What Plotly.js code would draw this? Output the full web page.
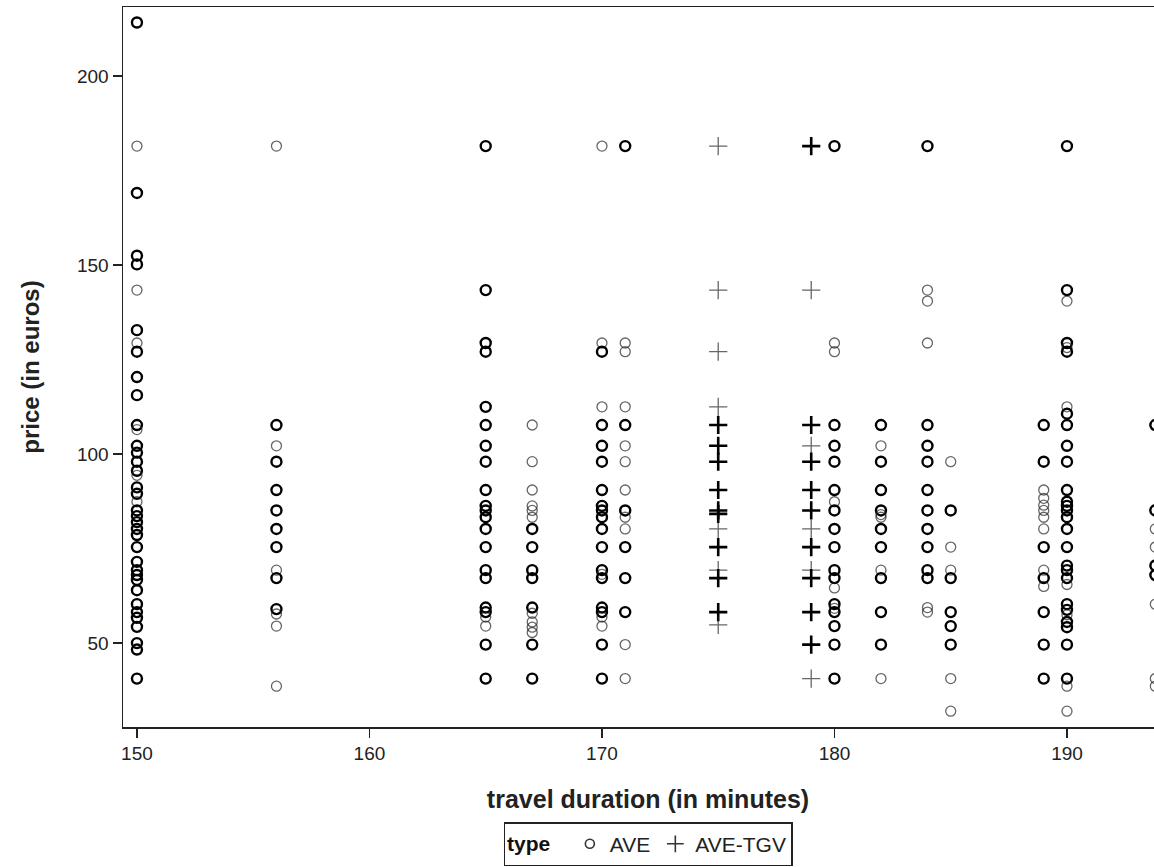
<!DOCTYPE html>
<html>
<head>
<meta charset="utf-8">
<script src="https://cdn.plot.ly/plotly-3.0.1.min.js"></script>
<style>
html, body { margin: 0; padding: 0; overflow: hidden; background: #fff; }
#chart { width: 1176px; height: 867px; }
</style>
</head>
<body>
<div id="chart"></div>
<script>
// ---- DATA (one entry per ticket; repeated values = overlapping tickets) ----
const aveDurations = [150, 156, 165, 167, 170, 171, 180, 182, 184, 185, 189, 190, 193.8];
const avePrices = [
  // 150
  [214.2,214.2, 181.5, 169.1,169.1, 152.5,152.5, 150.2,150.2, 143.4, 132.8,132.8, 129.4, 127.1,127.1,
   120.4,120.4, 115.6,115.6, 107.7,107.7,107.7, 106.5, 102.2,102.2, 100.4,100.4, 98,98, 95.6,95.6, 94.4,
   91.2,91.2, 89.5,89.5, 87.4, 85.1,85.1, 83.6,83.6, 82,82, 80.2,80.2, 78.6,78.6, 75.4,75.4, 71.5,71.5,
   69.3,69.3, 68,68, 66.7,66.7, 64,64, 60.3,60.3, 58.2,58.2, 56.7,56.7, 54.3,54.3, 50,50, 48.3,48.3, 40.6,40.6],
  // 156
  [181.5, 107.7,107.7, 102.2, 98,98, 90.5,90.5, 85.1,85.1, 80.2,80.2, 75.4,75.4, 69.3, 67.2,67.2,
   59,59, 57.7, 54.5, 38.6],
  // 165
  [181.5,181.5, 143.4,143.4, 129.4,129.4, 127.1,127.1, 112.5,112.5, 107.7,107.7, 102.2,102.2, 98,98,
   90.5,90.5, 86.3,86.3, 85.1,85.1, 83.3,83.3, 80.2,80.2, 75.4,75.4, 69.3,69.3, 67.2,67.2, 59.4,59.4,
   58.2,58.2, 56.9, 54.5, 49.6,49.6, 40.6,40.6],
  // 167
  [107.7, 98, 90.5, 86.3, 85.1, 83.3, 80.2,80.2, 75.4,75.4, 69.3,69.3, 67.2,67.2, 59.4,59.4, 57.9,
   55.6, 54.2, 52.8, 49.6,49.6, 40.6,40.6],
  // 170
  [181.5, 129.4, 127.1,127.1, 112.5, 107.7,107.7, 102.2,102.2, 98,98, 90.5,90.5, 86.3,86.3, 85.1,85.1,
   83.3,83.3, 80.2,80.2, 75.4,75.4, 69.3,69.3, 68.2, 67.2,67.2, 59.4,59.4, 58.2,58.2, 56.9, 54.5,
   49.6,49.6, 40.6,40.6],
  // 171
  [181.5,181.5, 129.4, 127.1, 112.5, 107.7,107.7, 102.2, 98, 90.5, 85.1,85.1, 83.3, 80.2, 75.4,75.4,
   67.2,67.2, 58.2,58.2, 49.6, 40.6],
  // 180
  [181.5,181.5, 129.4, 127.1, 107.7,107.7, 102.2,102.2, 98,98, 90.5,90.5, 87.4, 85.1,85.1,
   80.2,80.2, 75.4,75.4, 69.3,69.3, 67.2,67.2, 64.6, 60.3,60.3, 59.2, 58.2,58.2, 54.5,54.5, 49.6,49.6, 40.6,40.6],
  // 182
  [107.7,107.7, 102.2, 98,98, 90.5,90.5, 85.1,85.1, 84, 83.3, 80.2,80.2, 75.4,75.4, 69.3, 67.2,67.2,
   58.2,58.2, 49.6,49.6, 40.6],
  // 184
  [181.5,181.5, 143.4, 140.5, 129.4, 107.7,107.7, 102.2,102.2, 98,98, 90.5,90.5, 85.1,85.1, 80.2,80.2,
   75.4,75.4, 69.3,69.3, 67.2,67.2, 59.4, 58.2],
  // 185
  [98, 85.1,85.1, 75.4, 69.3, 67.2,67.2, 58.2,58.2, 54.5,54.5, 49.6,49.6, 40.6, 32],
  // 189
  [107.7,107.7, 98,98, 90.5, 88.3, 86.5, 85.1, 83.3, 80.2, 75.4,75.4, 69.3, 67.2,67.2, 65, 58.2,58.2,
   49.6,49.6, 40.6,40.6],
  // 190
  [181.5,181.5, 143.4,143.4, 140.5, 129.4,129.4, 128.2, 127.1,127.1, 112.5, 110.7,110.7, 107.7,107.7,
   102.2,102.2, 98,98, 90.5,90.5, 87.4,87.4, 86.3,86.3, 85.1,85.1, 83.3,83.3, 80.2,80.2, 75.4,75.4,
   70.5,70.5, 69.3,69.3, 67.2,67.2, 65.5, 60.3,60.3, 58.8,58.8, 57.5, 55.6,55.6, 54.2,54.2, 49.6,49.6,
   40.6,40.6, 38.6, 32],
  // ~194 (cut at right edge)
  [107.7,107.7, 85.1,85.1, 80.2, 75.4, 70.5,70.5, 68,68, 60.3, 40.6, 38.6]
];

const tgvDurations = [175, 179];
const tgvPrices = [
  // 175
  [181.5, 143.4, 127.1, 112.5, 107.7,107.7, 102.2,102.2, 98,98, 90.5,90.5, 85.1,85.1, 84.2,84.2, 80.2,
   75.4,75.4, 69.3, 67.2,67.2, 58.2,58.2, 54.8],
  // 179
  [181.5,181.5, 143.4, 107.7,107.7, 102.2, 98,98, 90.5,90.5, 85.1,85.1, 80.2, 75.4,75.4, 69.3, 67.2,67.2,
   58.2,58.2, 49.6,49.6, 40.6]
];

const typeNames = ['AVE', 'AVE-TGV'];
const xTicks = [150, 160, 170, 180, 190];
const yTicks = [50, 100, 150, 200];

// ---- BUILD ----
function aggregate(durations, prices) {
  const map = new Map();
  durations.forEach((d, i) => {
    prices[i].forEach(p => {
      const k = d + '|' + p;
      if (!map.has(k)) map.set(k, { x: d, y: p, n: 0 });
      map.get(k).n += 1;
    });
  });
  return Array.from(map.values());
}

const THIN_COL = 'rgba(30,30,30,0.68)';
const BOLD_COL = '#000';

function makeTrace(durations, prices, symbol, size, thin, bold) {
  const pts = aggregate(durations, prices);
  const cols = pts.map(p => p.n > 1 ? BOLD_COL : THIN_COL);
  return {
    type: 'scatter', mode: 'markers', showlegend: false, hoverinfo: 'x+y',
    x: pts.map(p => p.x), y: pts.map(p => p.y),
    marker: {
      symbol: symbol, size: size, color: cols,
      line: { width: pts.map(p => p.n > 1 ? bold : thin), color: cols }
    }
  };
}

const FONT = '"Liberation Sans", Arial, Helvetica, sans-serif';

const traces = [
  makeTrace(aveDurations, avePrices, 'circle-open', 10, 1.3, 2.4),
  makeTrace(tgvDurations, tgvPrices, 'cross-thin-open', 13, 1.3, 2.6),
  { type: 'scatter', mode: 'markers', name: typeNames[0], x: [null], y: [null],
    marker: { symbol: 'circle-open', size: 9, color: '#333', line: { width: 1.6, color: '#333' } } },
  { type: 'scatter', mode: 'markers', name: typeNames[1], x: [null], y: [null],
    marker: { symbol: 'cross-thin-open', size: 12, color: '#333', line: { width: 1.6, color: '#333' } } }
];

const axisCommon = {
  showline: true, linecolor: '#222', linewidth: 1.5, mirror: true,
  ticks: 'outside', ticklen: 9, tickwidth: 1.5, tickcolor: '#222',
  showgrid: false, zeroline: false,
  tickfont: { family: FONT, size: 19, color: '#222' }
};

const layout = {
  width: 1176, height: 867,
  margin: { l: 123, r: 3, t: 7, b: 140, pad: 0 },
  paper_bgcolor: '#fff', plot_bgcolor: '#fff',
  font: { family: FONT, color: '#222' },
  xaxis: Object.assign({}, axisCommon, {
    range: [149.4, 194.56], tickvals: xTicks,
    title: { text: '<b>travel duration (in minutes)</b>', font: { family: FONT, size: 25, color: '#222' }, standoff: 27 }
  }),
  yaxis: Object.assign({}, axisCommon, {
    range: [27.8, 218.3], tickvals: yTicks,
    title: { text: '<b>price (in euros)</b>', font: { family: FONT, size: 24, color: '#222' }, standoff: 30 }
  }),
  legend: {
    orientation: 'h', x: 0.5, xanchor: 'center',
    yref: 'container', y: 0.001, yanchor: 'bottom',
    bordercolor: '#222', borderwidth: 1.5, bgcolor: '#fff',
    font: { family: FONT, size: 21, color: '#222' },
    title: { text: '<b>type&nbsp;&nbsp;</b>', side: 'left', font: { family: FONT, size: 21, color: '#111' } },
    itemwidth: 30, tracegroupgap: 0
  },
  showlegend: true
};

Plotly.newPlot('chart', traces, layout, { displayModeBar: false, staticPlot: true });
</script>
</body>
</html>
